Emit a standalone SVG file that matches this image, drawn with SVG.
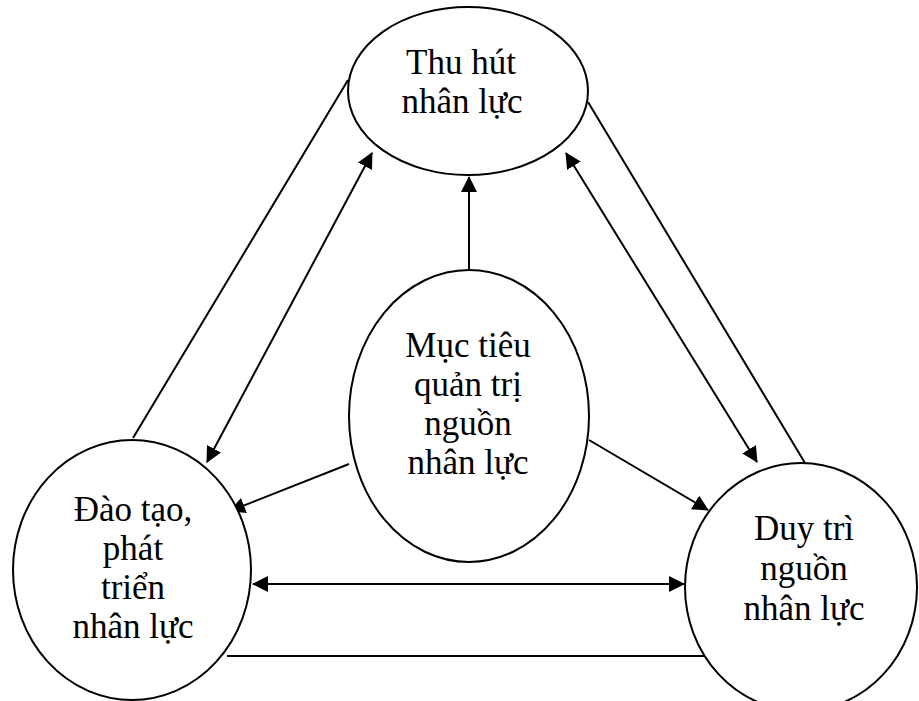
<svg xmlns="http://www.w3.org/2000/svg" width="919" height="701" viewBox="0 0 919 701">
<style>
.node ellipse{fill:#fff;stroke:#000;stroke-width:2}
.node text{font-family:"Liberation Serif","Times New Roman",serif;font-size:35px;fill:#000;text-anchor:middle}
.conn line{stroke:#000;stroke-width:2;fill:none}
</style>
<defs>
<marker id="ah" markerUnits="userSpaceOnUse" markerWidth="17" markerHeight="17" refX="15" refY="8" orient="auto-start-reverse" viewBox="0 0 17 17">
<path d="M0,0 L16,8 L0,16 z" fill="#000"/>
</marker>
</defs>
<rect width="919" height="701" fill="#fff"/>
<g id="connectors" class="conn">
<line x1="348" y1="80" x2="133" y2="438"/>
<line x1="372" y1="153" x2="207" y2="462" marker-start="url(#ah)" marker-end="url(#ah)"/>
<line x1="588" y1="102" x2="805" y2="463"/>
<line x1="566" y1="153" x2="757" y2="462" marker-start="url(#ah)" marker-end="url(#ah)"/>
<line x1="469" y1="270" x2="469" y2="177" marker-end="url(#ah)"/>
<line x1="349" y1="464" x2="230" y2="511" marker-end="url(#ah)"/>
<line x1="589" y1="440" x2="708" y2="510" marker-end="url(#ah)"/>
<line x1="253" y1="584" x2="684" y2="584" marker-start="url(#ah)" marker-end="url(#ah)"/>
<line x1="227" y1="656" x2="707" y2="656"/>
</g>
<g id="thu-hut" class="node">
<ellipse cx="468" cy="91" rx="120" ry="84"/>
<text x="461" y="74">Thu hút</text>
<text x="462" y="113">nhân lực</text>
</g>
<g id="muc-tieu" class="node">
<ellipse cx="469" cy="416" rx="120" ry="146"/>
<text x="468" y="357">Mục tiêu</text>
<text x="468" y="396">quản trị</text>
<text x="468" y="435">nguồn</text>
<text x="468" y="474">nhân lực</text>
</g>
<g id="dao-tao" class="node">
<ellipse cx="132" cy="570" rx="119" ry="130"/>
<text x="133" y="521">Đào tạo,</text>
<text x="133" y="560">phát</text>
<text x="133" y="599">triển</text>
<text x="133" y="638">nhân lực</text>
</g>
<g id="duy-tri" class="node">
<ellipse cx="801" cy="587" rx="116" ry="124"/>
<text x="804" y="540">Duy trì</text>
<text x="804" y="580">nguồn</text>
<text x="804" y="620">nhân lực</text>
</g>
</svg>
